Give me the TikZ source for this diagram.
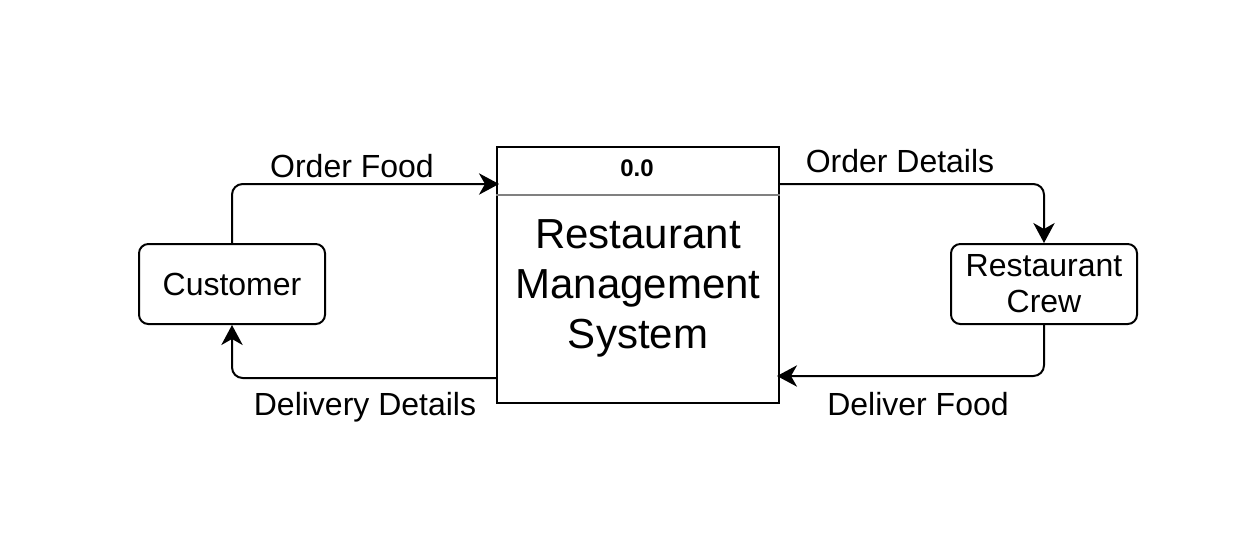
\documentclass[tikz,border=0pt]{standalone}
\usepackage{fontspec}
\setmainfont{Liberation Sans}
\usetikzlibrary{arrows.meta}
\tikzset{
  entity/.style={draw,shape=rectangle,rounded corners=7pt,line width=1.5pt,minimum width=139.5pt,minimum height=60pt,align=center,font=\fontsize{24}{27}\selectfont},
  flow/.style={line width=1.5pt,rounded corners=8pt,-{Stealth[length=15pt,width=16pt,inset=4.5pt]}},
  flowlabel/.style={anchor=base,font=\fontsize{24}{27}\selectfont}
}
\begin{document}
\begin{tikzpicture}[x=0.75pt,y=-0.75pt]
\fill[white] (0,0) rectangle (1254,540);
\useasboundingbox (0,0) rectangle (1254,540);
\node [entity,name=cust] at (232,284){Customer};
\node [entity,name=crew] at (1044,284){Restaurant\\Crew};
\node [draw,shape=rectangle,name=sys,line width=1.5pt,minimum width=211.5pt,minimum height=192pt] at (638,275){};
\node [name=num,font=\bfseries\fontsize{18}{20}\selectfont] at (637,168){0.0};
\node [name=title,align=center,font=\fontsize{31.5}{37.5}\selectfont] at (638,288){Restaurant\\Management\\System};
\draw[gray,line width=1.5pt] ([yshift=-36.75pt]sys.north west)--([yshift=-36.75pt]sys.north east);
\coordinate (in1) at (499,184);
\coordinate (out1) at (779,184);
\coordinate (in2) at (777,376);
\coordinate (out2) at (497,378);
\draw[flow] (cust.north) |- (in1);
\draw[flow] (out1) -| (crew.north);
\draw[flow] (crew.south) |- (in2);
\draw[flow] (out2) -| (cust.south);
\node [flowlabel,name=l1] at (352,177){Order Food};
\node [flowlabel,name=l2] at (900,172){Order Details};
\node [flowlabel,name=l3] at (918,415){Deliver Food};
\node [flowlabel,name=l4] at (365,415){Delivery Details};
\end{tikzpicture}
\end{document}
